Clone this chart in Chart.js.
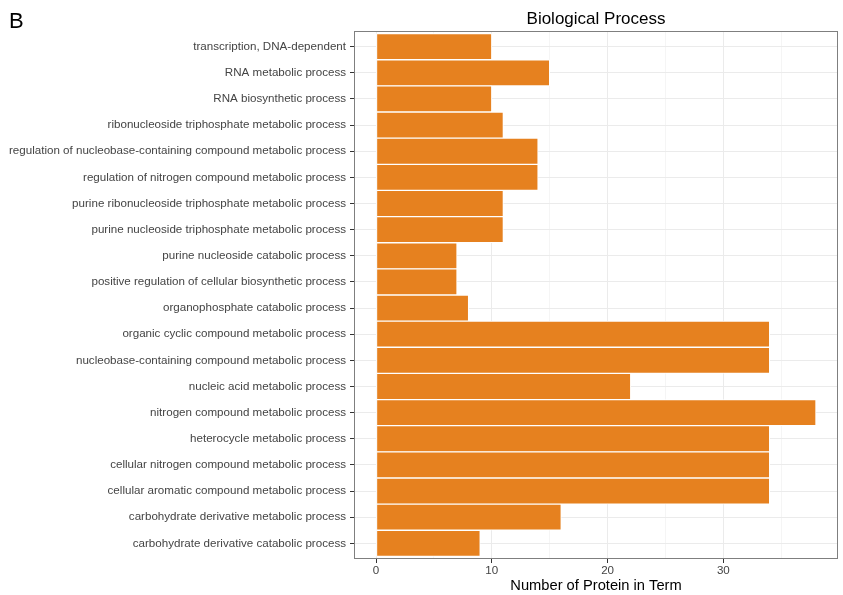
<!DOCTYPE html>
<html>
<head>
<meta charset="utf-8">
<script src="https://cdn.jsdelivr.net/npm/chart.js@4"></script>
<style>
  html, body { margin: 0; padding: 0; background: #fff; }
  #wrap { width: 843px; height: 595px; }
</style>
</head>
<body>
<div id="wrap"><canvas id="bpChart" width="843" height="595"></canvas></div>
<script>
// GO terms, top to bottom as in the figure
const terms = [
  "transcription, DNA-dependent",
  "RNA metabolic process",
  "RNA biosynthetic process",
  "ribonucleoside triphosphate metabolic process",
  "regulation of nucleobase-containing compound metabolic process",
  "regulation of nitrogen compound metabolic process",
  "purine ribonucleoside triphosphate metabolic process",
  "purine nucleoside triphosphate metabolic process",
  "purine nucleoside catabolic process",
  "positive regulation of cellular biosynthetic process",
  "organophosphate catabolic process",
  "organic cyclic compound metabolic process",
  "nucleobase-containing compound metabolic process",
  "nucleic acid metabolic process",
  "nitrogen compound metabolic process",
  "heterocycle metabolic process",
  "cellular nitrogen compound metabolic process",
  "cellular aromatic compound metabolic process",
  "carbohydrate derivative metabolic process",
  "carbohydrate derivative catabolic process"
];

// number of proteins per term
const proteinCounts = [10, 15, 10, 11, 14, 14, 11, 11, 7, 7, 8, 34, 34, 22, 38, 34, 34, 34, 16, 9];

const xTicks = [0, 10, 20, 30];

const FONT = "'Liberation Sans', Arial, sans-serif";

// titre, lettre du panneau et cadre
const decorations = {
  id: "decorations",
  afterDraw(chart) {
    const { ctx, chartArea } = chart;
    ctx.save();
    ctx.strokeStyle = "#7f7f7f";
    ctx.lineWidth = 1;
    ctx.strokeRect(chartArea.left + 0.5, chartArea.top + 0.5,
      chartArea.right - chartArea.left - 1, chartArea.bottom - chartArea.top - 1);

    ctx.fillStyle = "#000";
    ctx.textBaseline = "alphabetic";
    ctx.textAlign = "left";
    ctx.font = "22px " + FONT;
    ctx.fillText("B", 9, 28);

    ctx.textAlign = "center";
    ctx.font = "17px " + FONT;
    ctx.fillText("Biological Process", (chartArea.left + chartArea.right) / 2, 24);
    ctx.restore();
  }
};

// position of each term on the (reversed) linear y scale
const data = {
  datasets: [{
    label: "Number of Protein in Term",
    data: proteinCounts.map((v, i) => ({ x: v, y: i })),
    backgroundColor: "#e6811f",
    borderColor: "#ffffff",
    borderWidth: 1,
    borderSkipped: false,
    categoryPercentage: 1,
    barPercentage: 1
  }]
};

const config = {
  type: "bar",
  data: data,
  plugins: [decorations],
  options: {
    indexAxis: "y",
    responsive: false,
    animation: false,
    layout: { padding: { top: 31, right: 5, bottom: 0, left: 0 } },
    plugins: {
      legend: { display: false },
      tooltip: { enabled: false }
    },
    scales: {
      x: {
        type: "linear",
        min: -1.9,
        max: 39.9,
        afterFit: (scale) => { scale.height = 36; },
        border: { display: false },
        grid: {
          color: (c) => (c.tick && c.tick.value % 10 === 0) ? "#ebebeb" : "#f5f5f5",
          tickColor: (c) => (c.tick && c.tick.value % 10 === 0) ? "#333333" : "rgba(0,0,0,0)",
          tickLength: 4,
          lineWidth: 1
        },
        ticks: {
          stepSize: 5,
          includeBounds: false,
          autoSkip: false,
          maxRotation: 0,
          padding: 1,
          color: "#444444",
          font: { family: FONT, size: 11.6 },
          callback: (v) => xTicks.includes(v) ? String(v) : ""
        },
        title: {
          display: true,
          text: "Number of Protein in Term",
          color: "#000",
          font: { family: FONT, size: 14.7 },
          padding: { top: 0, bottom: 0 }
        }
      },
      y: {
        type: "linear",
        reverse: true,
        offset: false,
        min: -0.6,
        max: terms.length - 0.4,
        afterFit: (scale) => { scale.width = 354; },
        border: { display: false },
        grid: {
          offset: false,
          color: "#ebebeb",
          tickColor: "#333333",
          tickLength: 4
        },
        ticks: {
          stepSize: 1,
          includeBounds: false,
          autoSkip: false,
          padding: 4,
          color: "#444444",
          font: { family: FONT, size: 11.6 },
          callback: (v) => terms[v] !== undefined ? terms[v] : ""
        }
      }
    }
  }
};

window.addEventListener("DOMContentLoaded", () => {
  const ctx = document.getElementById("bpChart").getContext("2d");
  new Chart(ctx, config);
});
</script>
</body>
</html>
